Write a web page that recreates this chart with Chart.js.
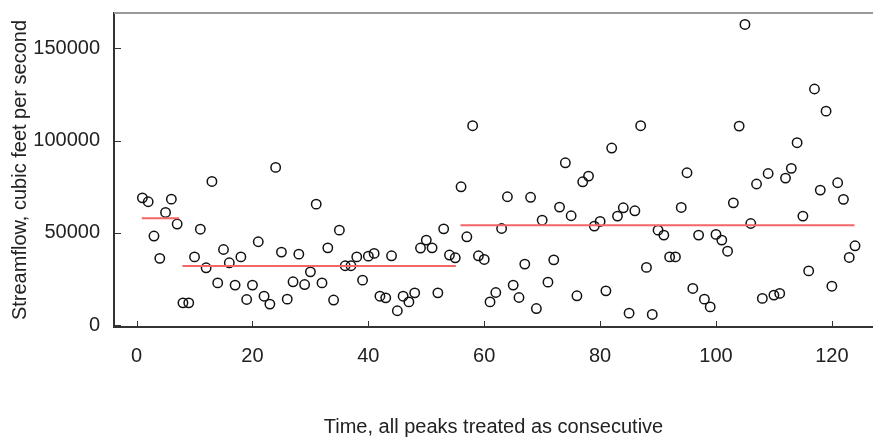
<!DOCTYPE html>
<html>
<head>
<meta charset="utf-8">
<script src="https://cdn.jsdelivr.net/npm/chart.js@4/dist/chart.umd.min.js"></script>
<style>
  html, body { margin: 0; padding: 0; background: #fff; overflow: hidden; }
  canvas { display: block; }
</style>
</head>
<body>
<canvas id="peaks" width="873" height="439"></canvas>
<script>
// annual peaks, in order (x = 1, 2, 3 ...)
const peakFlows = [
  69000, 66900, 48300, 36200, 61100, 68300, 54800, 12100, 12100, 37000,
  52000, 31100, 77900, 22900, 41000, 33800, 21700, 37000, 13900, 21700,
  45200, 15700, 11400, 85500, 39600, 14100, 23500, 38500, 22000, 28900,
  65600, 22900, 41900, 13600, 51500, 32200, 32200, 37000, 24400, 37400,
  38900, 15700, 14800, 37600, 7800, 15700, 12600, 17500, 41800, 46100,
  41900, 17500, 52200, 38000, 36500, 75000, 47900, 108100, 37600, 35600,
  12600, 17700, 52400, 69600, 21700, 15000, 33100, 69300, 9000, 56900,
  23300, 35400, 64000, 88000, 59300, 15900, 77700, 80800, 53700, 56200,
  18600, 96000, 59100, 63600, 6500, 62000, 108100, 31300, 5800, 51500,
  48800, 37000, 37000, 63800, 82600, 19900, 48800, 14100, 9900, 49200,
  46100, 40100, 66300, 107900, 163000, 55100, 76500, 14500, 82200, 16300,
  17200, 79700, 85000, 98900, 59100, 29400, 128000, 73200, 116000, 21100,
  77200, 68200, 36700, 43000
];

// period means (red segments)
const segStart = [0.9, 7.9, 55.9];
const segEnd   = [7.3, 55.1, 123.9];
const segMean  = [57900, 32000, 54100];

const xTicks = [0, 20, 40, 60, 80, 100, 120];
const yTicks = [0, 50000, 100000, 150000];

const FONT = { family: 'Liberation Sans, Arial, sans-serif', size: 20 };

const points = peakFlows.map((v, i) => ({ x: i + 1, y: v }));

const meanSets = segMean.map((m, i) => ({
  type: 'line',
  data: [{ x: segStart[i], y: m }, { x: segEnd[i], y: m }],
  borderColor: '#f26666',
  borderWidth: 2,
  pointRadius: 0,
  fill: false
}));

// drop the edge padding Chart.js reserves for labels
function noPad(s) {
  s.paddingTop = 0;
  s.paddingBottom = 0;
  s.paddingLeft = 0;
  s.paddingRight = 0;
}

// inward tick marks + grey top rule, like the original plot
const frame = {
  id: 'frame',
  afterDraw(chart) {
    const { ctx, chartArea: a, scales } = chart;
    ctx.save();
    ctx.strokeStyle = '#999';
    ctx.lineWidth = 2;
    ctx.beginPath();
    ctx.moveTo(a.left, a.top);
    ctx.lineTo(a.right, a.top);
    ctx.stroke();

    ctx.strokeStyle = '#333';
    ctx.lineWidth = 1;
    ctx.beginPath();
    xTicks.forEach(t => {
      const px = Math.round(scales.x.getPixelForValue(t)) + 0.5;
      ctx.moveTo(px, a.bottom);
      ctx.lineTo(px, a.bottom - 6);
    });
    yTicks.forEach(t => {
      const py = Math.round(scales.y.getPixelForValue(t)) + 0.5;
      ctx.moveTo(a.left, py);
      ctx.lineTo(a.left + 7, py);
    });
    ctx.stroke();
    ctx.restore();
  }
};

new Chart(document.getElementById('peaks'), {
  type: 'scatter',
  data: {
    datasets: [
      ...meanSets,
      {
        data: points,
        pointStyle: 'circle',
        pointRadius: 4.7,
        borderWidth: 1.5,
        borderColor: '#111',
        backgroundColor: 'rgba(0,0,0,0)'
      }
    ]
  },
  options: {
    responsive: false,
    animation: false,
    layout: { autoPadding: false, padding: { top: 13, right: 0, bottom: 0, left: 0 } },
    plugins: { legend: { display: false }, tooltip: { enabled: false } },
    scales: {
      x: {
        type: 'linear',
        min: -3.9,
        max: 127.1,
        afterFit: s => { s.height = 112; noPad(s); },
        afterBuildTicks: s => { s.ticks = xTicks.map(v => ({ value: v })); },
        grid: { display: false, drawTicks: false },
        border: { display: true, color: '#333', width: 2 },
        ticks: { font: FONT, color: '#222', padding: 17, maxRotation: 0 },
        title: {
          display: true,
          text: 'Time, all peaks treated as consecutive',
          font: FONT,
          color: '#222',
          padding: { top: 0, bottom: 0 }
        }
      },
      y: {
        type: 'linear',
        min: -1000,
        max: 169200,
        afterFit: s => { s.width = 114; noPad(s); },
        afterBuildTicks: s => { s.ticks = yTicks.map(v => ({ value: v })); },
        grid: { display: false, drawTicks: false },
        border: { display: true, color: '#333', width: 2 },
        ticks: { font: FONT, color: '#222', padding: 14, callback: v => String(v) },
        title: {
          display: true,
          text: 'Streamflow, cubic feet per second',
          font: FONT,
          color: '#222',
          padding: { top: 8, bottom: 0 }
        }
      }
    }
  },
  plugins: [frame]
});
</script>
</body>
</html>
